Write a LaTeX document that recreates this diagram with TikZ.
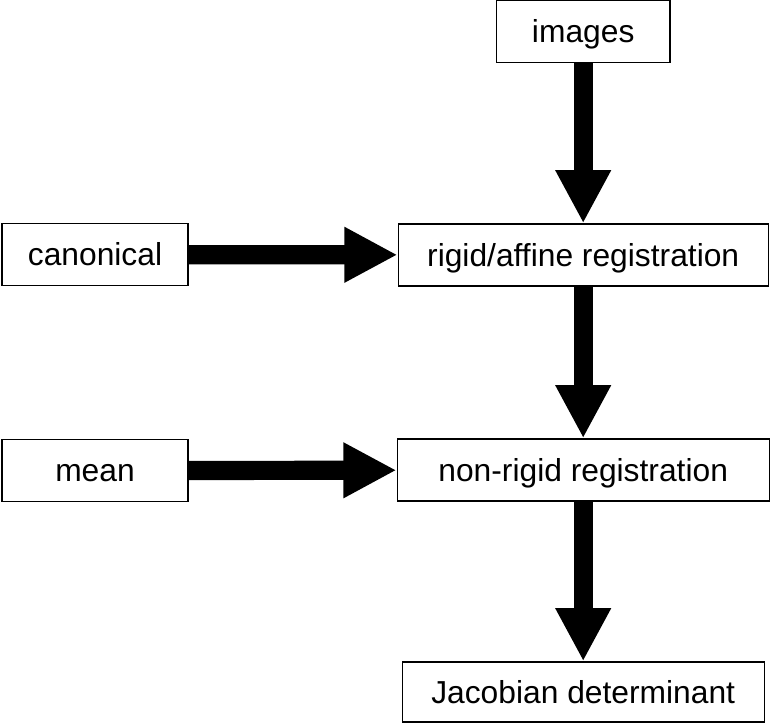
\documentclass[tikz,border=0pt]{standalone}
\usepackage{fontspec}
\setmainfont{Liberation Sans}
\usepackage{tikz}
\usetikzlibrary{arrows.meta}

\tikzset{
    box/.style={draw=black, line width=1pt, minimum height=1.55cm, inner sep=0pt,
        text height=0.56cm, text depth=0pt, font=\fontsize{22.6}{27}\selectfont},
    flow/.style={line width=0.48cm, -{Triangle[length=1.33cm, width=1.3cm]}}
}

\begin{document}
\begin{tikzpicture}
        \useasboundingbox (0,0) rectangle (19.275,18.125);

        \node[box, minimum width=4.33cm] (images) at (14.58,17.33) {images};
        \node[box, minimum width=4.65cm] (canonical) at (2.375,11.76) {canonical};
        \node[box, minimum width=9.25cm] (rigid) at (14.58,11.75) {rigid/affine registration};
        \node[box, minimum width=4.65cm] (mean) at (2.375,6.36) {mean};
        \node[box, minimum width=9.3cm] (nonrigid) at (14.58,6.375) {non-rigid registration};
        \node[box, minimum width=9.05cm, minimum height=1.5cm] (jacobian) at (14.58,0.825) {Jacobian determinant};

        \draw[flow] (images) -- (rigid);
        \draw[flow] (canonical) -- (rigid);
        \draw[flow] (rigid) -- (nonrigid);
        \draw[flow] (mean) -- (nonrigid);
        \draw[flow] (nonrigid) -- (jacobian);
    \end{tikzpicture}
\end{document}
